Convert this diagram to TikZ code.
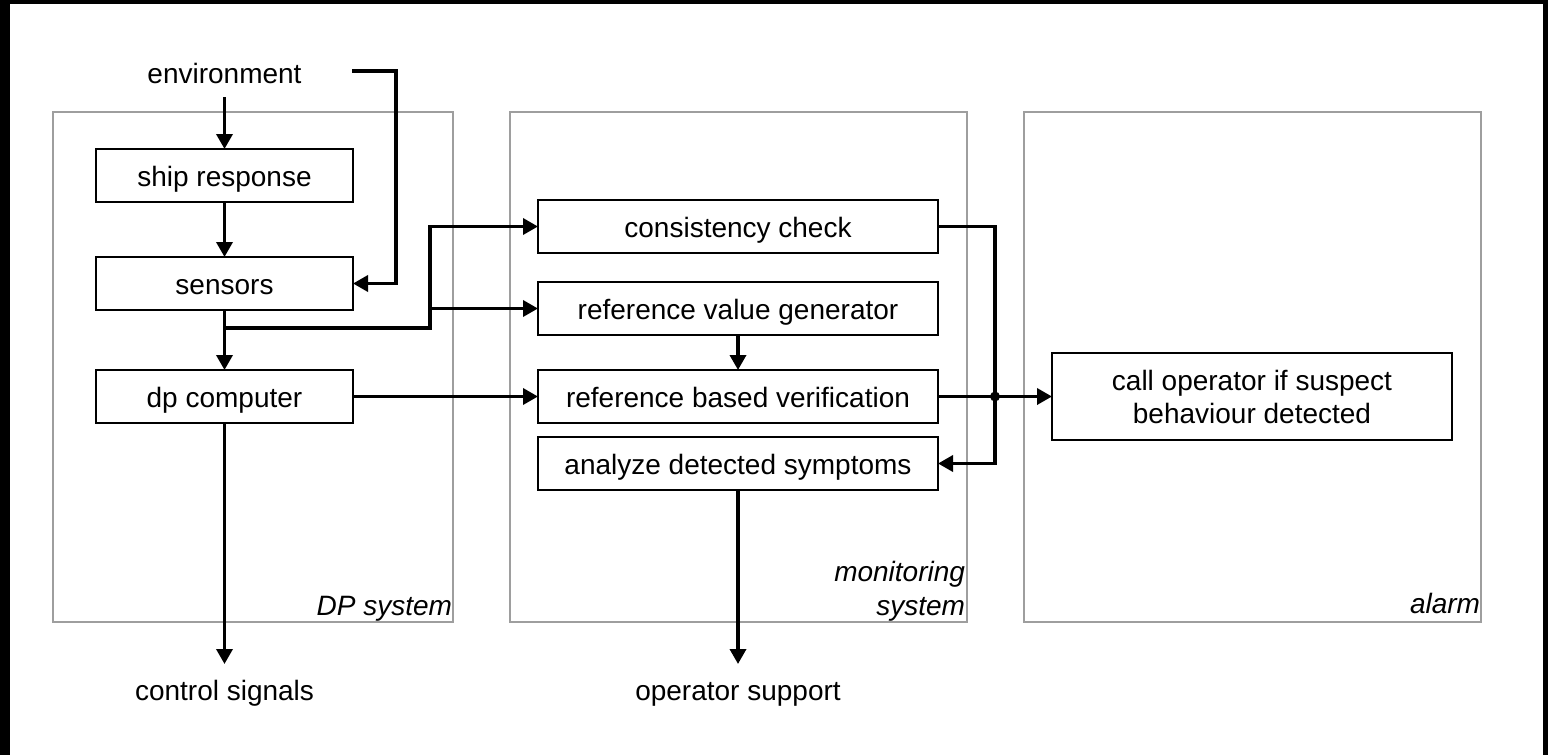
\documentclass[tikz,border=0pt]{standalone}
\usepackage{fontspec}
\setmainfont{Liberation Sans}
\usetikzlibrary{arrows.meta}
\begin{document}
\begin{tikzpicture}[x=1pt,y=-1pt,
  every node/.style={font=\fontsize{28}{33}\selectfont, inner sep=0pt, outer sep=0pt},
  txt/.style={text height=20pt, text depth=0pt},
  box/.style={draw, line width=2pt, minimum width=257pt, minimum height=53pt, text height=21pt, text depth=0pt},
  wbox/.style={box, minimum width=400pt},
  callbox/.style={draw, line width=2pt, minimum width=400pt, minimum height=87pt, align=center},
  frame/.style={draw=black!38, line width=2pt},
  conn/.style={line width=3.5pt},
  arr/.style={conn, -{Triangle[length=15pt,width=16pt]}},
  lbl/.style={font=\fontsize{28}{34}\selectfont\itshape, anchor=base east, align=right},
]
\fill[white] (0,0) rectangle (1548,755);
\useasboundingbox (0,0) rectangle (1548,755);
\fill[black] (0,0) rectangle (10,755);
\fill[black] (0,0) rectangle (1548,3.5);
\fill[black] (1543,0) rectangle (1548,755);

% frames
\draw[frame] (53,112) rectangle (453,622);
\draw[frame] (510,112) rectangle (967,622);
\draw[frame] (1024,112) rectangle (1481,622);
\node[lbl] (lbldp) at (452,615) {DP system};
\node[lbl] (lblmon) at (965,615) {monitoring\\system};
\node[lbl] (lblal) at (1480,613) {alarm};

% nodes
\node[txt] (env) at (224.5,73) {environment};
\node[box] (ship) at (224.5,175.5) {ship response};
\node[box] (sens) at (224.5,283.5) {sensors};
\node[box] (dpc) at (224.5,396.5) {dp computer};
\node[wbox] (cc) at (738,226.5) {consistency check};
\node[wbox] (rvg) at (738,308.5) {reference value generator};
\node[wbox] (rbv) at (738,396.5) {reference based verification};
\node[wbox] (ads) at (738,463.5) {analyze detected symptoms};
\node[callbox] (call) at (1252,396.5) {call operator if suspect\\behaviour detected};
\node[txt] (ctrl) at (224.5,690) {control signals};
\node[txt] (ops) at (738,690) {operator support};

% connectors
\coordinate (fbstart) at (352,71);
\coordinate (j1) at (224.5,328);
\coordinate (j2) at (430,328);
\coordinate (bus) at (995,396.5);

\draw[arr, shorten <=14pt] (env.south) -- (ship.north);
\draw[arr] (ship.south) -- (sens.north);
\draw[arr] (fbstart) -- ++(44,0) |- (sens.east);
\draw[arr] (sens.south) -- (dpc.north);
\draw[arr] (j1) -- (j2) |- (cc.west);
\draw[arr] (j2 |- rvg.west) -- (rvg.west);
\draw[arr] (rvg.south) -- (rbv.north);
\draw[arr] (dpc.east) -- (rbv.west);
\draw[arr, shorten >=16pt] (dpc.south) -- (ctrl.north);
\draw[arr, shorten >=16pt] (ads.south) -- (ops.north);
\draw[arr] (cc.east) -| (bus) |- (ads.east);
\draw[arr] (rbv.east) -- (call.west);
\fill (bus) circle (5pt);
\end{tikzpicture}
\end{document}
